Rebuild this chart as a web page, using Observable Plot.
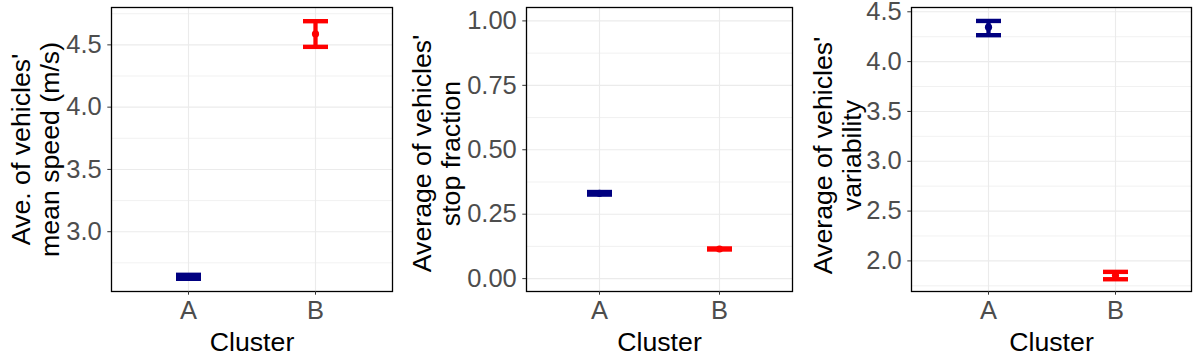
<!DOCTYPE html>
<html>
<head>
<meta charset="utf-8">
<script src="https://cdn.jsdelivr.net/npm/d3@7"></script>
<script src="https://cdn.jsdelivr.net/npm/@observablehq/plot@0.6"></script>
<style>
  html, body { margin: 0; padding: 0; background: #fff; }
  #row { display: flex; flex-direction: row; width: 1196px; height: 363px; }
  #row svg { display: block; overflow: visible; }
  #row g[aria-label="y-axis tick label"] text, #row g[aria-label="x-axis tick label"] text { font-size: 25.5px !important; }
</style>
</head>
<body>
<div id="row"></div>
<script>
// ---- data ----
const clusters = ["A", "B"];
const clusterColors = ["#000080", "#FF0000"];

const speedMean = [2.638, 4.588];
const speedLo = [2.622, 4.484];
const speedHi = [2.654, 4.690];
const speedTicks = [3.0, 3.5, 4.0, 4.5];
const speedMinor = [2.75, 3.25, 3.75, 4.25, 4.75];
const speedDomain = [2.52, 4.80];
const speedLabel = "Ave. of vehicles'\nmean speed (m/s)";

const stopMean = [0.331, 0.115];
const stopLo = [0.326, 0.113];
const stopHi = [0.336, 0.117];
const stopTicks = [0.00, 0.25, 0.50, 0.75, 1.00];
const stopMinor = [0.125, 0.375, 0.625, 0.875];
const stopDomain = [-0.05, 1.052];
const stopLabel = "Average of vehicles'\nstop fraction";

const varMean = [4.346, 1.853];
const varLo = [4.265, 1.816];
const varHi = [4.408, 1.890];
const varTicks = [2.0, 2.5, 3.0, 3.5, 4.0, 4.5];
const varMinor = [1.75, 2.25, 2.75, 3.25, 3.75, 4.25];
const varDomain = [1.693, 4.543];
const varLabel = "Average of vehicles'\nvariability";

const xTitle = "Cluster";

// horizontal-line symbol for error bar caps (half-length = r)
const capSymbol = {
  draw(ctx, size) {
    const h = Math.sqrt(size / Math.PI);
    ctx.moveTo(-h, 0);
    ctx.lineTo(h, 0);
  }
};

function panel({mean, lo, hi, ticks, minor, domain, label, fmt, width, marginLeft, marginRight, labelX, labelDy}) {
  const rows = clusters.map((c, i) => ({cluster: c, mean: mean[i], lo: lo[i], hi: hi[i], color: clusterColors[i]}));
  return Plot.plot({
    width, height: 363,
    marginLeft, marginRight, marginTop: 7, marginBottom: 72,
    style: {fontFamily: "'Liberation Sans', Arial, sans-serif", background: "white", overflow: "visible"},
    x: {type: "point", domain: clusters, padding: 0.6, label: null},
    y: {domain, label: null},
    marks: [
      Plot.gridY(minor, {stroke: "#EBEBEB", strokeOpacity: 1, strokeWidth: 0.7}),
      Plot.gridY(ticks, {stroke: "#EBEBEB", strokeOpacity: 1, strokeWidth: 1.1}),
      Plot.gridX(clusters, {stroke: "#EBEBEB", strokeOpacity: 1, strokeWidth: 1.1}),
      Plot.ruleX(rows, {x: "cluster", y1: "lo", y2: "hi", stroke: "color", strokeWidth: 4.3}),
      Plot.dot(rows, {x: "cluster", y: "lo", r: 12.5, symbol: capSymbol, stroke: "color", strokeWidth: 4.4, fill: "none"}),
      Plot.dot(rows, {x: "cluster", y: "hi", r: 12.5, symbol: capSymbol, stroke: "color", strokeWidth: 4.4, fill: "none"}),
      Plot.dot(rows, {x: "cluster", y: "mean", r: 3.6, fill: "color", stroke: "none"}),
      Plot.frame({stroke: "black", strokeWidth: 1.3}),
      Plot.axisY({ticks, tickFormat: d3.format(fmt), tickSize: 3.7, tickPadding: 6, fontSize: 25.5, fill: "#4D4D4D", stroke: "#333333", label: null}),
      Plot.axisX({tickSize: 3.7, tickPadding: 6, fontSize: 25.5, fill: "#4D4D4D", stroke: "#333333", label: null}),
      Plot.text([xTitle], {frameAnchor: "bottom", dy: 59, lineAnchor: "bottom", text: d => d, fontSize: 26.7, fill: "black"}),
      Plot.text([label], {frameAnchor: "left", dx: labelX - marginLeft, dy: labelDy, rotate: -90, text: d => d, fontSize: 26.7, lineHeight: 1.08, lineAnchor: "middle", textAnchor: "middle", fill: "black"})
    ]
  });
}

const row = document.getElementById("row");
row.append(panel({mean: speedMean, lo: speedLo, hi: speedHi, ticks: speedTicks, minor: speedMinor, domain: speedDomain, label: speedLabel, fmt: ".1f", width: 399, marginLeft: 111, marginRight: 7, labelX: 35, labelDy: 0}));
row.append(panel({mean: stopMean, lo: stopLo, hi: stopHi, ticks: stopTicks, minor: stopMinor, domain: stopDomain, label: stopLabel, fmt: ".2f", width: 399, marginLeft: 127, marginRight: 6, labelX: 37, labelDy: 4}));
row.append(panel({mean: varMean, lo: varLo, hi: varHi, ticks: varTicks, minor: varMinor, domain: varDomain, label: varLabel, fmt: ".1f", width: 398, marginLeft: 113, marginRight: 5, labelX: 39, labelDy: 6}));
</script>
</body>
</html>
